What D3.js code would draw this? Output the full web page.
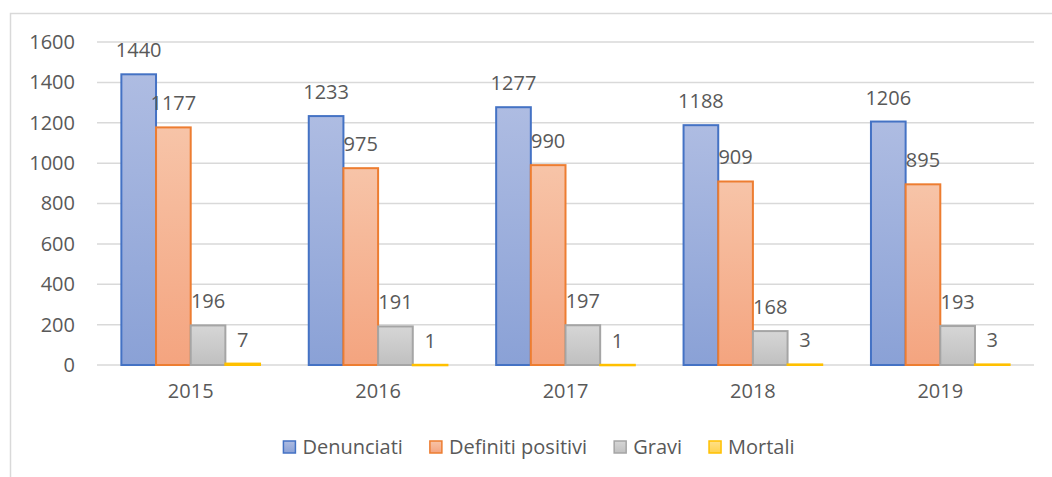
<!DOCTYPE html>
<html>
<head>
<meta charset="utf-8">
<script src="https://cdn.jsdelivr.net/npm/d3@7"></script>
<style>
  html, body { margin: 0; background: #fff; overflow: hidden; }
  svg { display: block; }
  text { font-family: "Open Sans", sans-serif; fill: #595959; }
</style>
</head>
<body>
<div id="chart"></div>
<script>
// data
const years = ['2015', '2016', '2017', '2018', '2019'];
const seriesNames = ['Denunciati', 'Definiti positivi', 'Gravi', 'Mortali'];
const denunciati = [1440, 1233, 1277, 1188, 1206];
const definiti = [1177, 975, 990, 909, 895];
const gravi = [196, 191, 197, 168, 193];
const mortali = [7, 1, 1, 3, 3];
const yTicks = [0, 200, 400, 600, 800, 1000, 1200, 1400, 1600];

const values = [denunciati, definiti, gravi, mortali];
const strokes = ['#4472c4', '#ed7d31', '#a5a5a5', '#ffc000'];
const fillTop = ['#aebce2', '#f7c4a8', '#d6d6d6', '#ffe08a'];
const fillBot = ['#8aa1d6', '#f4a47f', '#c0c0c0', '#ffd24d'];

const W = 1052, H = 477;
const margin = { top: 42, left: 97, right: 18, bottom: 112 };
const width = W - margin.left - margin.right;
const height = H - margin.top - margin.bottom;
const fontSize = 20;

const svg = d3.select('#chart').append('svg')
  .attr('width', W).attr('height', H);

// gradients for bar fills
const defs = svg.append('defs');
seriesNames.forEach((s, i) => {
  const g = defs.append('linearGradient').attr('id', 'grad' + i)
    .attr('x1', 0).attr('y1', 0).attr('x2', 0).attr('y2', 1);
  g.append('stop').attr('offset', '0%').attr('stop-color', fillTop[i]);
  g.append('stop').attr('offset', '100%').attr('stop-color', fillBot[i]);
});

// outer frame (right and bottom edges fall outside the picture)
svg.append('rect')
  .attr('x', 10.5).attr('y', 13.5)
  .attr('width', 1100).attr('height', 500)
  .attr('fill', 'none').attr('stroke', '#d9d9d9').attr('stroke-width', 1.5);

const g = svg.append('g').attr('transform', `translate(${margin.left},${margin.top})`);

const x0 = d3.scaleBand().domain(years).range([0, width]).paddingInner(0.26).paddingOuter(0.13);
const x1 = d3.scaleBand().domain(seriesNames).range([0, x0.bandwidth()]);
const y = d3.scaleLinear().domain([0, 1600]).range([height, 0]);

// gridlines
g.selectAll('.grid').data(yTicks).join('line')
  .attr('x1', 0).attr('x2', width)
  .attr('y1', d => y(d)).attr('y2', d => y(d))
  .attr('stroke', '#d9d9d9').attr('stroke-width', 1.5);

// y axis labels
const yAxis = d3.axisLeft(y).tickValues(yTicks).tickFormat(d3.format('d')).tickSize(0).tickPadding(22);
const ya = g.append('g').call(yAxis);
ya.select('.domain').remove();
ya.selectAll('text').attr('font-size', fontSize).style('font-family', '"Open Sans", sans-serif').attr('fill', '#595959');

// x axis labels
const xAxis = d3.axisBottom(x0).tickSize(0).tickPadding(19);
const xa = g.append('g').attr('transform', `translate(0,${height})`).call(xAxis);
xa.select('.domain').remove();
xa.selectAll('text').attr('font-size', fontSize).style('font-family', '"Open Sans", sans-serif').attr('fill', '#595959');

// bars
seriesNames.forEach((s, i) => {
  const sg = g.append('g');
  sg.selectAll('rect').data(values[i]).join('rect')
    .attr('x', (d, j) => x0(years[j]) + x1(s))
    .attr('y', d => y(d))
    .attr('width', x1.bandwidth())
    .attr('height', d => Math.max(0.5, y(0) - y(d)))
    .attr('fill', `url(#grad${i})`)
    .attr('stroke', strokes[i]).attr('stroke-width', 2);
  sg.selectAll('text').data(values[i]).join('text')
    .attr('x', (d, j) => x0(years[j]) + x1(s) + x1.bandwidth() / 2)
    .attr('y', d => y(d) - 17)
    .attr('text-anchor', 'middle')
    .attr('font-size', fontSize)
    .text(d => d);
});

// legend, laid out by text width and centred on the frame
const legend = svg.append('g').attr('transform', 'translate(0,447)');
const items = seriesNames.map((s, i) => {
  const lg = legend.append('g');
  lg.append('rect').attr('x', 0).attr('y', -6).attr('width', 12).attr('height', 12)
    .attr('fill', `url(#grad${i})`).attr('stroke', strokes[i]).attr('stroke-width', 1.5);
  const t = lg.append('text').attr('x', 19).attr('y', 0).attr('dy', '0.35em')
    .attr('font-size', fontSize).text(s);
  return { lg, w: 19 + t.node().getComputedTextLength() };
});
const gap = 27;
const total = d3.sum(items, d => d.w) + gap * (items.length - 1);
let lx = 539 - total / 2;
items.forEach(it => {
  it.lg.attr('transform', `translate(${lx},0)`);
  lx += it.w + gap;
});
</script>
</body>
</html>
